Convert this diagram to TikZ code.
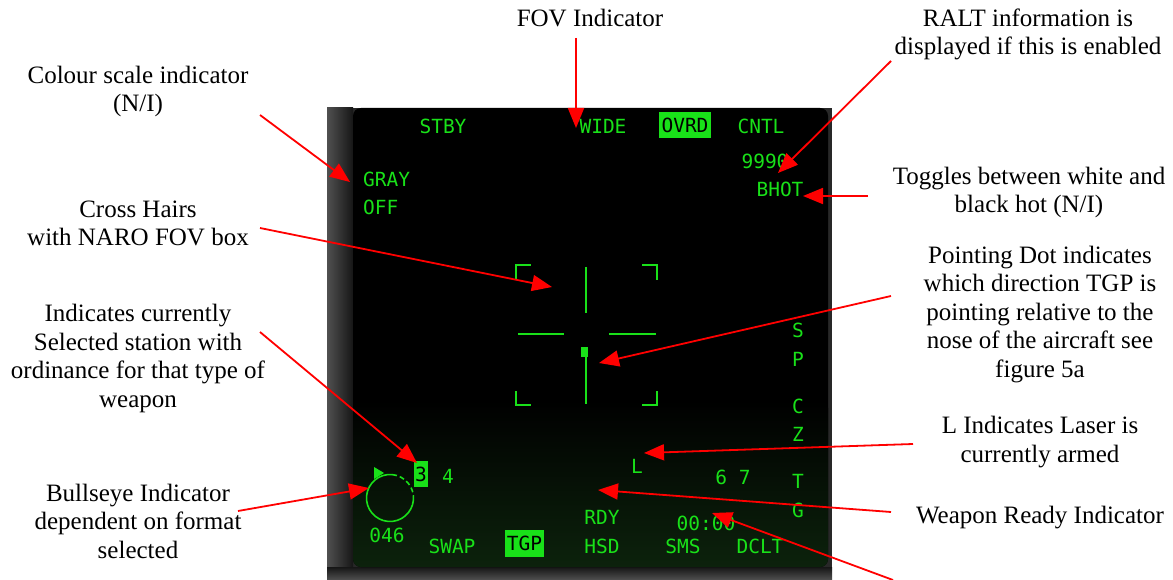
\documentclass[tikz,border=0pt]{standalone}
\usepackage{fontspec}
\setmainfont{Liberation Serif}
\newfontfamily\mfdfont{DejaVu Sans Mono}
\usetikzlibrary{arrows.meta}
\definecolor{mfdgreen}{RGB}{25,225,25}
\definecolor{calloutred}{RGB}{255,0,0}
\definecolor{bezelgrey}{RGB}{40,40,40}
\definecolor{bezellight}{RGB}{80,80,80}
\definecolor{bezeldark}{RGB}{22,22,22}
\definecolor{glow}{RGB}{12,34,12}
\begin{document}
\begin{tikzpicture}[x=1pt,y=-1pt,
  note/.style={align=center, font=\fontsize{25}{28.5}\selectfont, inner sep=0pt, anchor=base},
  mfd/.style={text=mfdgreen, font=\mfdfont\fontsize{19.5}{20}\selectfont, inner sep=0pt, anchor=base},
  mfdbox/.style={fill=mfdgreen, text=black, font=\mfdfont\fontsize{19.5}{20}\selectfont, inner sep=0pt},
  callout/.style={draw=calloutred, line width=1.8pt, -{Triangle[length=20pt,width=16pt]}},
  hair/.style={draw=mfdgreen, line width=2pt},
]
\useasboundingbox (0,0) rectangle (1173,580);
\fill[white] (0,0) rectangle (1173,580);

% ---------- MFD screen ----------
\fill[bezelgrey] (327,108) rectangle (832,580);
\shade[left color=bezellight, right color=bezeldark] (327,108) rectangle (353,580);
\shade[top color=bezeldark, bottom color=bezellight] (327,567) rectangle (832,580);
\fill[black, rounded corners=8pt] (353,108) rectangle (828,567);
\shade[top color=black, bottom color=glow, rounded corners=8pt] (353,400) rectangle (828,567);

% ---------- MFD texts ----------
\node[mfd] (stby) at (443,134) {STBY};
\node[mfd] (wide) at (603,134) {WIDE};
\node[mfdbox, minimum width=52pt, minimum height=26pt] (ovrd) at (685,125) {OVRD};
\node[mfd] (cntl) at (761,134) {CNTL};
\node[mfd] (ralt) at (765,169) {9990};
\node[mfd] (bhot) at (780,197) {BHOT};
\node[mfd, anchor=base west] (gray) at (363,187) {GRAY};
\node[mfd, anchor=base west] (off) at (363,215) {OFF};

\node[mfd] (sS) at (798,337) {S};
\node[mfd] (sP) at (798,366) {P};
\node[mfd] (sC) at (798,413) {C};
\node[mfd] (sZ) at (798,441) {Z};
\node[mfd] (sT) at (798,488) {T};
\node[mfd] (sG) at (798,517) {G};

\node[mfdbox, minimum width=14pt, minimum height=26pt] (sta3) at (421,474) {3};
\node[mfd] (sta4) at (448,483) {4};
\node[mfd] (bear) at (387,542) {046};
\node[mfd] (swap) at (452,553) {SWAP};
\node[mfdbox, minimum width=39pt, minimum height=27pt] (tgp) at (524.5,543.5) {TGP};
\node[mfd] (laser) at (637,473) {L};
\node[mfd] (sta67) at (733,484) {6 7};
\node[mfd] (rdy) at (602,524) {RDY};
\node[mfd] (timer) at (706,530) {00:00};
\node[mfd] (hsd) at (602,553) {HSD};
\node[mfd] (sms) at (683,553) {SMS};
\node[mfd] (dclt) at (760,553) {DCLT};

% ---------- cross hairs and NARO FOV box ----------
\draw[hair] (516,279) -- (516,265) -- (531,265);
\draw[hair] (642,265) -- (657,265) -- (657,280);
\draw[hair] (516,391) -- (516,405) -- (531,405);
\draw[hair] (642,405) -- (657,405) -- (657,391);
\draw[hair] (518,334) -- (564,334);
\draw[hair] (609,334) -- (656,334);
\draw[hair] (586,267) -- (586,313);
\draw[hair] (586,357) -- (586,404);
\node[fill=mfdgreen, minimum width=7pt, minimum height=10pt, inner sep=0pt] (dot) at (584.5,352) {};

% ---------- bullseye ----------
\coordinate (bull) at (390,498);
\draw[mfdgreen, line width=1.6pt] ([shift={(5:23.5)}]bull) arc[start angle=5, end angle=275, radius=23.5];
\draw[mfdgreen, line width=1.6pt, dash pattern=on 5pt off 3pt] ([shift={(275:23.5)}]bull) arc[start angle=275, end angle=365, radius=23.5];
\fill[mfdgreen] (374,467) -- (374,479) -- (384,473) -- cycle;

% ---------- annotation texts (anchor = baseline of last line) ----------
\node[note] (nfov) at (590,27) {FOV Indicator};
\node[note] (nralt) at (1028,55) {RALT information is\\displayed if this is enabled};
\node[note] (ncol) at (138,112) {Colour scale indicator\\(N/I)};
\node[note] (nhot) at (1029,213) {Toggles between white and\\black hot (N/I)};
\node[note] (ncross) at (138,246) {Cross Hairs\\with NARO FOV box};
\node[note] (npoint) at (1040,377) {Pointing Dot indicates\\which direction TGP is\\pointing relative to the\\nose of the aircraft see\\figure 5a};
\node[note] (nsta) at (138,407) {Indicates currently\\Selected station with\\ordinance for that type of\\weapon};
\node[note] (nlaser) at (1040,462) {L Indicates Laser is\\currently armed};
\node[note] (nbull) at (138,558) {Bullseye Indicator\\dependent on format\\selected};
\node[note] (nrdy) at (1040,523) {Weapon Ready Indicator};

% ---------- callout ends ----------
\coordinate (afov) at (576,38);   \coordinate (tfov) at (576,128);
\coordinate (aralt) at (891,61);  \coordinate (tralt) at (778,173);
\coordinate (acol) at (260,115);  \coordinate (tcol) at (350,182);
\coordinate (ahot) at (868,196);  \coordinate (thot) at (803,196);
\coordinate (across) at (260,228); \coordinate (tcross) at (552,287);
\coordinate (apoint) at (891,296); \coordinate (tpoint) at (599,363);
\coordinate (asta) at (260,332);  \coordinate (tsta) at (417,463);
\coordinate (alaser) at (913,444); \coordinate (tlaser) at (644,453);
\coordinate (abull) at (238,511); \coordinate (tbull) at (369,488);
\coordinate (ardy) at (891,512);  \coordinate (trdy) at (598,490);
\coordinate (atime) at (893,580); \coordinate (ttime) at (712,513);

\draw[callout] (afov) -- (tfov);
\draw[callout] (aralt) -- (tralt);
\draw[callout] (acol) -- (tcol);
\draw[callout] (ahot) -- (thot);
\draw[callout] (across) -- (tcross);
\draw[callout] (apoint) -- (tpoint);
\draw[callout] (asta) -- (tsta);
\draw[callout] (alaser) -- (tlaser);
\draw[callout] (abull) -- (tbull);
\draw[callout] (ardy) -- (trdy);
\draw[callout] (atime) -- (ttime);
\end{tikzpicture}
\end{document}
